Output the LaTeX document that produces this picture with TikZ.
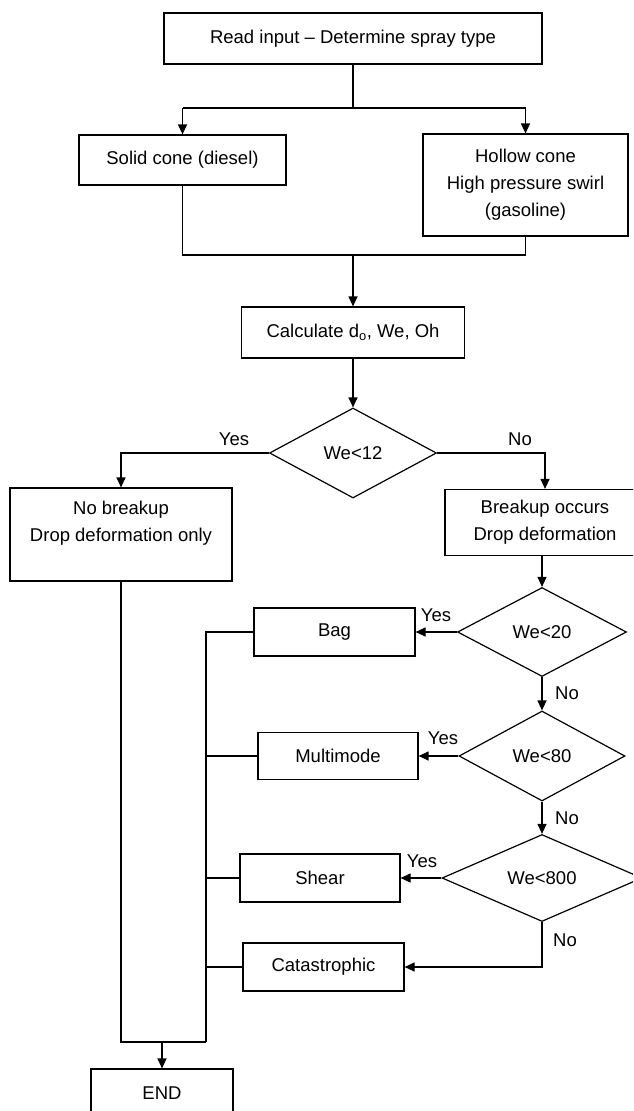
\documentclass[tikz,border=0pt]{standalone}
\usepackage{fontspec}
\setmainfont{Liberation Sans}
\usetikzlibrary{shapes.geometric,arrows.meta}
\begin{document}
\begin{tikzpicture}[x=1pt,y=-1pt,
  txt/.style={font=\fontsize{18.5}{27}\selectfont},
  box/.style={txt,draw,line width=1.2pt,inner sep=2pt,align=center},
  dec/.style={txt,draw,diamond,inner sep=0pt,line width=1.2pt},
  lbl/.style={txt,inner sep=0pt},
  conn/.style={line width=1.2pt},
  arr/.style={conn,-{Triangle[width=9pt,length=10pt]}}]
\useasboundingbox (0,0) rectangle (633,1111);
\fill[white] (0,0) rectangle (633,1111);
\clip (0,0) rectangle (633,1111);

% nodes
\node[box,minimum width=378,minimum height=51] (read) at (353,38.5) {Read input -- Determine spray type};
\node[box,minimum width=207,minimum height=50] (solid) at (182.5,160) {Solid cone (diesel)};
\node[box,minimum width=205,minimum height=102] (hollow) at (525.5,185) {Hollow cone\\High pressure swirl\\(gasoline)};
\node[box,minimum width=223,minimum height=51] (calc) at (353,332.5) {Calculate d\textsubscript{o}, We, Oh};
\node[dec,minimum width=167,minimum height=90] (d12) at (353,453) {We<12};
\node[box,minimum width=222,minimum height=93] (nob) at (121,534.5) {No breakup\\Drop deformation only\\\mbox{}};
\node[box,minimum width=200,minimum height=66] (brk) at (545,522.5) {Breakup occurs\\Drop deformation};
\node[dec,minimum width=169,minimum height=89] (d20) at (542,632) {We<20};
\node[box,minimum width=161,minimum height=48] (bag) at (334.5,632) {Bag};
\node[dec,minimum width=166,minimum height=90] (d80) at (542,756) {We<80};
\node[box,minimum width=160,minimum height=47] (multi) at (338,756) {Multimode};
\node[dec,minimum width=200,minimum height=87] (d800) at (542,878) {We<800};
\node[box,minimum width=160,minimum height=48] (shear) at (320,878) {Shear};
\node[box,minimum width=161,minimum height=48] (cata) at (323.5,967) {Catastrophic};
\node[box,minimum width=142,minimum height=48] (end) at (162,1093) {END};

% labels
\node[lbl] (y12) at (234,439) {Yes};
\node[lbl] (n12) at (520,439) {No};
\node[lbl] (y20) at (436,615) {Yes};
\node[lbl] (n20) at (567,693) {No};
\node[lbl] (y80) at (443,738) {Yes};
\node[lbl] (n80) at (567,818) {No};
\node[lbl] (y800) at (422,861) {Yes};
\node[lbl] (n800) at (565,940) {No};

% junction coordinates
\coordinate (sL) at (182.5,108);
\coordinate (sR) at (525.5,108);
\coordinate (mL) at (182.5,255);
\coordinate (mR) at (525.5,255);
\coordinate (cTop) at (206,632);
\coordinate (cBot) at (206,1042);
\coordinate (eTop) at (162,1042);

% connectors
\draw[conn] (read) -- (read |- sL);
\draw[conn] (sL) -- (sR);
\draw[arr] (sL) -- (solid);
\draw[arr] (sR) -- (hollow);
\draw[conn] (solid) -- (mL) -- (mR) -- (hollow);
\draw[arr] (calc |- mL) -- (calc);
\draw[arr] (calc) -- (d12);
\draw[arr] (d12.west) -| (nob);
\draw[arr] (d12.east) -| (brk.north -| 545,0);
\draw[arr] (brk.south -| d20.north) -- (d20);
\draw[arr] (d20) -- (bag);
\draw[arr] (d20) -- (d80);
\draw[arr] (d80) -- (multi);
\draw[arr] (d80) -- (d800);
\draw[arr] (d800) -- (shear);
\draw[arr] (d800.south) |- (cata);
\draw[conn] (bag) -- (cTop) -- (cBot);
\draw[conn] (multi) -- (multi -| cTop);
\draw[conn] (shear) -- (shear -| cTop);
\draw[conn] (cata) -- (cata -| cTop);
\draw[conn] (nob) -- (nob |- cBot) -- (cBot);
\draw[arr] (eTop) -- (end);
\end{tikzpicture}
\end{document}
